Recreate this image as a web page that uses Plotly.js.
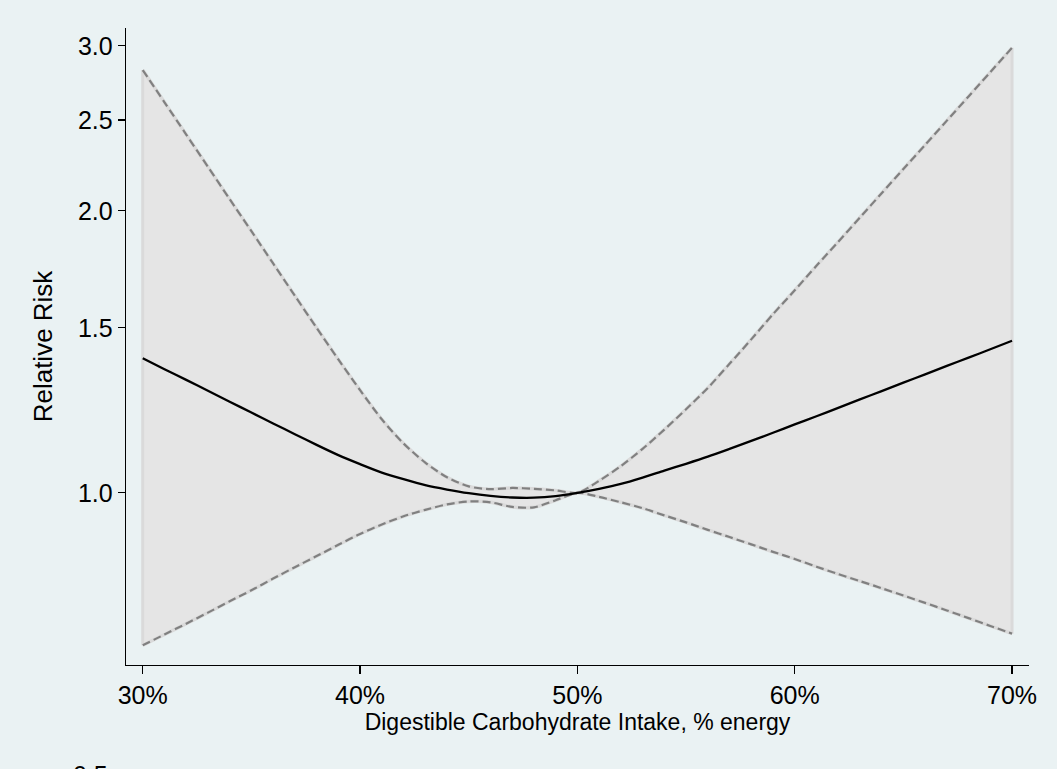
<!DOCTYPE html>
<html>
<head>
<meta charset="utf-8">
<script src="https://cdn.plot.ly/plotly-3.0.1.min.js"></script>
<style>
html,body{margin:0;padding:0;background:#EAF2F3;}
#chart{width:1057px;height:769px;}
</style>
</head>
<body>
<div id="chart"></div>
<script>
// Digestible carbohydrate intake (% energy)
const carbPct = [30, 31, 32, 33, 34, 35, 36, 37, 38, 39, 40, 41, 42, 43, 44, 45, 46, 47, 48, 49, 50,
                 51, 52, 53, 54, 55, 56, 57, 58, 59, 60, 61, 62, 63, 64, 65, 66, 67, 68, 69, 70];
// Relative risk (point estimate)
const rr = [1.392, 1.355, 1.320, 1.285, 1.251, 1.218, 1.186, 1.155, 1.125, 1.097, 1.073, 1.051, 1.034, 1.019, 1.008, 0.999, 0.9925, 0.9886, 0.9881, 0.992, 1.000,
            1.010, 1.022, 1.038, 1.056, 1.074, 1.093, 1.114, 1.136, 1.159, 1.183, 1.207, 1.232, 1.258, 1.284, 1.311, 1.338, 1.366, 1.394, 1.423, 1.453];
// Upper 95% confidence limit
const upper = [2.826, 2.611, 2.412, 2.228, 2.058, 1.902, 1.757, 1.623, 1.500, 1.388, 1.287, 1.198, 1.129, 1.077, 1.039, 1.016, 1.009, 1.012, 1.010, 1.006, 1.000,
               1.030, 1.068, 1.114, 1.168, 1.228, 1.294, 1.373, 1.458, 1.551, 1.645, 1.747, 1.853, 1.967, 2.088, 2.216, 2.351, 2.496, 2.649, 2.812, 2.985];
// Lower 95% confidence limit
const lower = [0.6875, 0.706, 0.725, 0.745, 0.766, 0.787, 0.810, 0.833, 0.856, 0.880, 0.904, 0.925, 0.944, 0.959, 0.972, 0.979, 0.977, 0.966, 0.965, 0.982, 1.000,
               0.990, 0.977, 0.963, 0.946, 0.930, 0.913, 0.897, 0.881, 0.865, 0.850, 0.834, 0.819, 0.805, 0.791, 0.777, 0.763, 0.749, 0.735, 0.721, 0.7075];

const yTickVals = [1.0, 1.5, 2.0, 2.5, 3.0];
const yTickText = ["1.0", "1.5", "2.0", "2.5", "3.0"];
const extraYLabel = 0.5;
const xTickVals = [30, 40, 50, 60, 70];
const xTickText = xTickVals.map(v => v + '%');

const yRange = [Math.log10(0.655), Math.log10(3.134)];
const xRange = [29.23, 70.78];

const FONT = 'Liberation Sans, Arial, sans-serif';
const bandFill = '#E5E5E5';
const bandEdge = '#DADADA';
const ciColor = '#808080';

const last = carbPct.length - 1;
const traces = [
  {x: carbPct, y: upper, mode: 'lines', line: {color: bandEdge, width: 3.5, shape: 'spline', smoothing: 0.8}, hoverinfo: 'skip', showlegend: false},
  {x: carbPct, y: lower, mode: 'lines', fill: 'tonexty', fillcolor: bandFill, line: {color: bandEdge, width: 3.5, shape: 'spline', smoothing: 0.8}, hoverinfo: 'skip', showlegend: false},
  {x: [carbPct[0], carbPct[0]], y: [upper[0], lower[0]], mode: 'lines', line: {color: bandEdge, width: 3}, hoverinfo: 'skip', showlegend: false},
  {x: [carbPct[last], carbPct[last]], y: [upper[last], lower[last]], mode: 'lines', line: {color: bandEdge, width: 3}, hoverinfo: 'skip', showlegend: false},
  {x: carbPct, y: upper, mode: 'lines', line: {color: ciColor, width: 2.2, dash: '8px,4px', shape: 'spline', smoothing: 0.8}, name: 'Upper 95% CI', showlegend: false},
  {x: carbPct, y: lower, mode: 'lines', line: {color: ciColor, width: 2.2, dash: '8px,4px', shape: 'spline', smoothing: 0.8}, name: 'Lower 95% CI', showlegend: false},
  {x: carbPct, y: rr, mode: 'lines', line: {color: '#000000', width: 2.3, shape: 'spline', smoothing: 0.8}, name: 'Relative Risk', showlegend: false}
];

const layout = {
  width: 1057,
  height: 769,
  paper_bgcolor: '#EAF2F3',
  plot_bgcolor: '#EAF2F3',
  margin: {l: 126, r: 28, t: 28, b: 104, pad: 0},
  font: {family: FONT, size: 25, color: '#000000'},
  showlegend: false,
  xaxis: {
    range: xRange,
    tickmode: 'array',
    tickvals: xTickVals,
    ticktext: xTickText,
    showgrid: false,
    zeroline: false,
    showline: true,
    linecolor: '#000000',
    linewidth: 1.3,
    ticks: 'outside',
    ticklen: 8,
    tickwidth: 1.3,
    tickcolor: '#000000',
    tickfont: {family: FONT, size: 25, color: '#000000'},
    title: {text: 'Digestible Carbohydrate Intake, % energy', font: {family: FONT, size: 23, color: '#000000'}, standoff: 3},
    automargin: false
  },
  yaxis: {
    type: 'log',
    range: yRange,
    tickmode: 'array',
    tickvals: yTickVals,
    ticktext: yTickText,
    showgrid: false,
    zeroline: false,
    showline: true,
    linecolor: '#000000',
    linewidth: 1.3,
    ticks: 'outside',
    ticklen: 7,
    tickwidth: 1.3,
    tickcolor: '#000000',
    tickfont: {family: FONT, size: 25, color: '#000000'},
    title: {text: 'Relative Risk', font: {family: FONT, size: 26, color: '#000000'}, standoff: 17},
    automargin: false
  },
  annotations: [{
    xref: 'paper', yref: 'paper',
    x: 0, xanchor: 'right', xshift: -16,
    y: (Math.log10(extraYLabel) - yRange[0]) / (yRange[1] - yRange[0]),
    yanchor: 'middle',
    text: extraYLabel.toFixed(1),
    showarrow: false,
    font: {family: FONT, size: 25, color: '#000000'}
  }]
};

Plotly.newPlot('chart', traces, layout, {displayModeBar: false, staticPlot: true});
</script>
</body>
</html>
